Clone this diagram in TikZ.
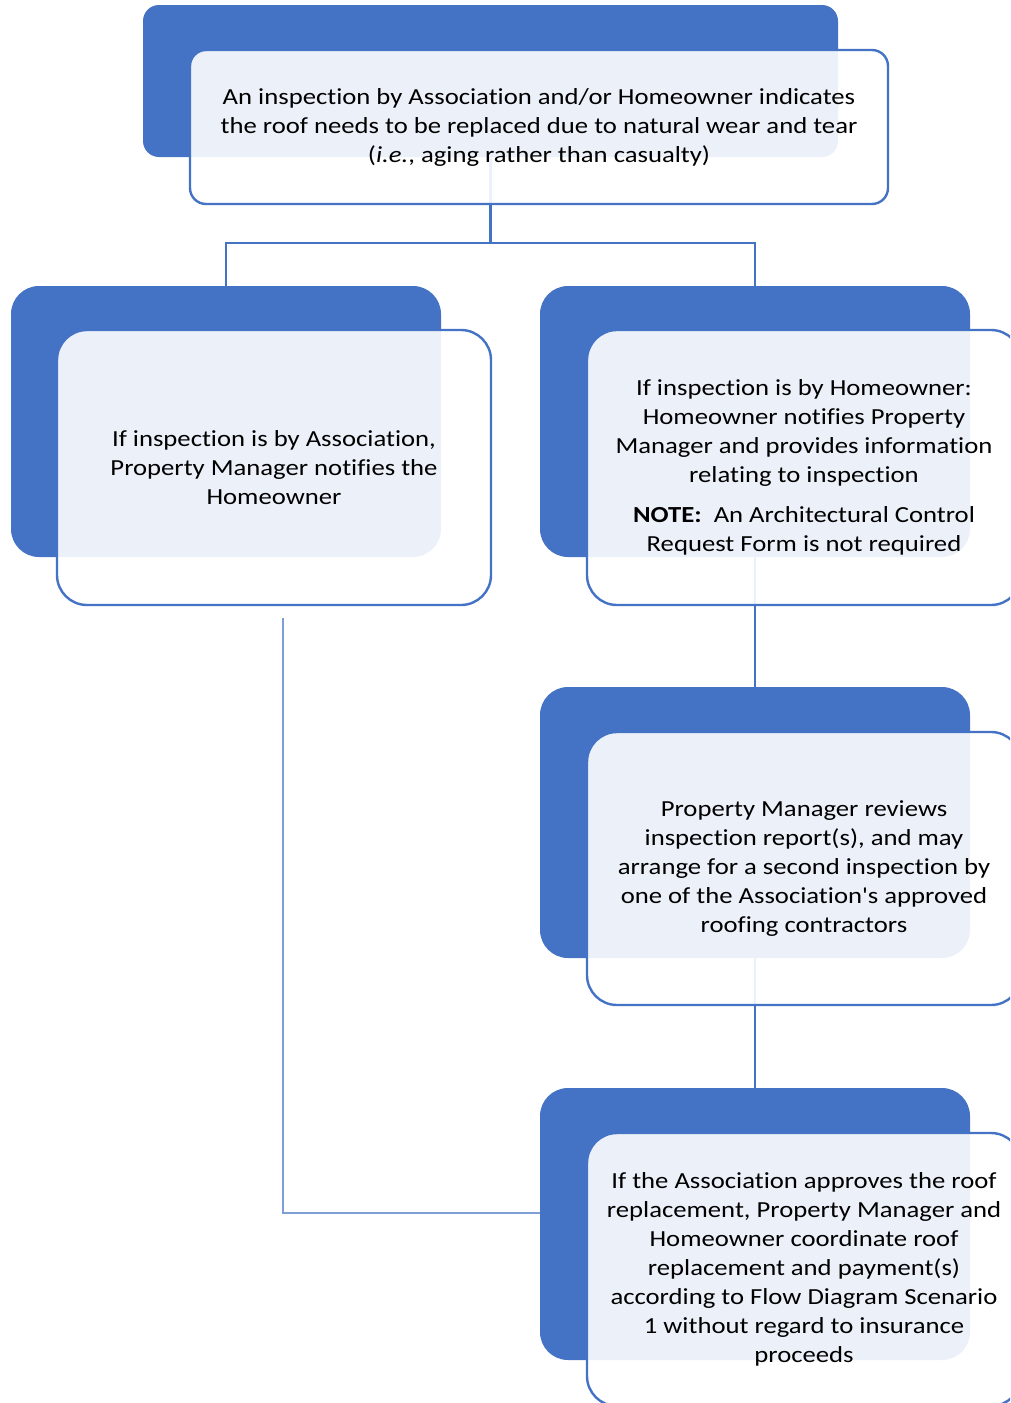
\documentclass[tikz,border=0pt]{standalone}
\usepackage{fontspec}
\setmainfont{Carlito}[Ligatures={TeXOff,CommonOff}, FakeStretch=1.16]
\definecolor{bblue}{HTML}{4472C4}
\definecolor{lline}{HTML}{7F9ED6}
\begin{document}
\begin{tikzpicture}[x=1pt,y=-1pt,
  backbox/.style={fill=bblue, draw=none, rounded corners=#1, inner sep=0pt, outer sep=0pt, anchor=north west},
  frontbox/.style={fill=white, fill opacity=0.9, text opacity=1, draw=bblue, line width=2.4pt, rounded corners=#1,
    inner sep=0pt, outer sep=0pt, anchor=north west, align=center, text=black,
    font=\fontsize{23}{29}\selectfont},
  conn/.style={draw=bblue, line width=2.4pt},
  thinconn/.style={draw=lline, line width=1.5pt}]
\useasboundingbox (0,0) rectangle (1010,1403);
\clip (0,0) rectangle (1010,1403);
% back boxes
\node[backbox=16pt, minimum width=695pt, minimum height=152pt] (b0) at (143,5) {};
\node[backbox=28pt, minimum width=430pt, minimum height=271pt] (b1) at (11,286) {};
\node[backbox=28pt, minimum width=430pt, minimum height=271pt] (b2) at (540,286) {};
\node[backbox=28pt, minimum width=430pt, minimum height=271pt] (b3) at (540,687) {};
\node[backbox=28pt, minimum width=430pt, minimum height=272pt] (b4) at (540,1088) {};
% connectors
\coordinate (j) at (490.5,243);
\draw[conn] (b0.south) -- (j);
\draw[conn] (j) -| (b1.north);
\draw[conn] (j) -| (b2.north);
\draw[conn] (b2.south) -- (b3.north);
\draw[conn] (b3.south) -- (b4.north);
\coordinate (lf) at (283,618);
\coordinate (le) at (540,1213);
\draw[thinconn] (lf) |- (le);
% front boxes
\node[frontbox=16pt, minimum width=698pt, minimum height=154pt] (f0) at (190,50)
  {An inspection by Association and/or Homeowner indicates\\
   the roof needs to be replaced due to natural wear and tear\\
   (\textit{i.e.}, aging rather than casualty)};
\node[frontbox=30pt, minimum width=434pt, minimum height=275pt] (f1) at (57,330)
  {If inspection is by Association,\\ Property Manager notifies the\\ Homeowner};
\node[frontbox=30pt, minimum width=434pt, minimum height=275pt] (f2) at (587,330)
  {If inspection is by Homeowner:\\ Homeowner notifies Property\\ Manager and provides information\\ relating to inspection\\[11pt]
   \textbf{NOTE:}\ \ An Architectural Control\\ Request Form is not required};
\node[frontbox=30pt, minimum width=434pt, minimum height=273pt] (f3) at (587,732)
  {Property Manager reviews\\ inspection report(s), and may\\ arrange for a second inspection by\\ one of the Association's approved\\ roofing contractors};
\node[frontbox=30pt, minimum width=434pt, minimum height=273pt] (f4) at (587,1133)
  {If the Association approves the roof\\ replacement, Property Manager and\\ Homeowner coordinate roof\\ replacement and payment(s)\\ according to Flow Diagram Scenario\\ 1 without regard to insurance\\ proceeds};
\end{tikzpicture}
\end{document}
